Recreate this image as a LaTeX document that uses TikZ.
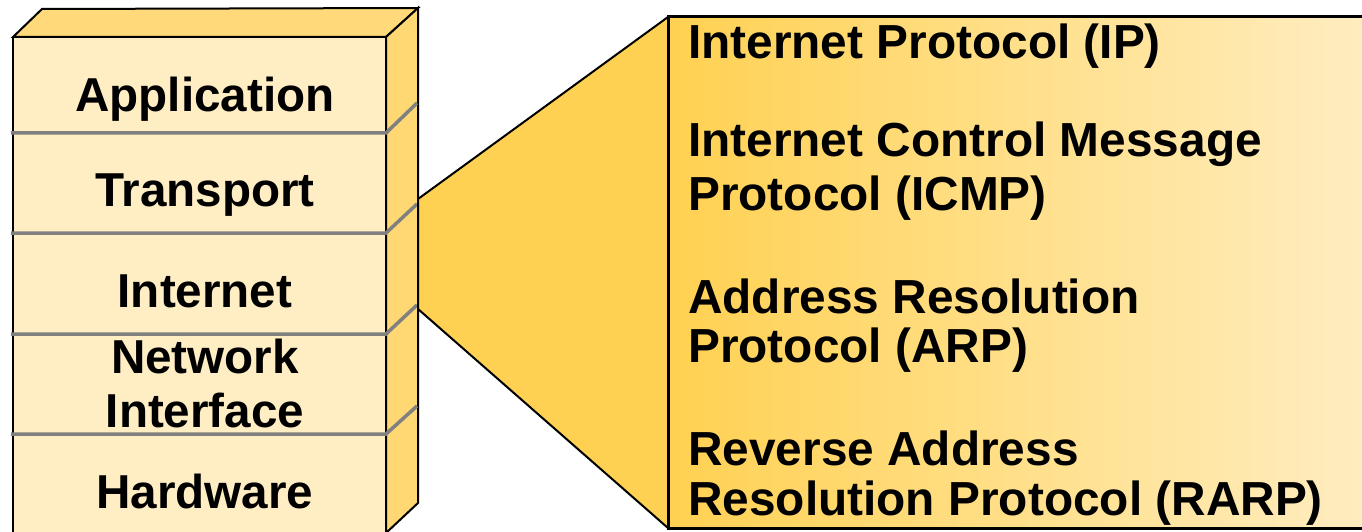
\documentclass[tikz,border=0pt]{standalone}
\usepackage{fontspec}
\setmainfont{Liberation Sans}
\definecolor{frontc}{HTML}{FFEEC4}
\definecolor{topc}{HTML}{FFD97A}
\definecolor{sidec}{HTML}{FFD873}
\definecolor{funnelc}{HTML}{FFD152}
\definecolor{panelr}{HTML}{FFEDC0}
\definecolor{sepc}{HTML}{808080}
\begin{document}
\begin{tikzpicture}[x=1pt,y=-1pt,
  outline/.style={draw=black,line width=2pt,line join=miter},
  sepline/.style={draw=sepc,line width=3.5pt},
  layer/.style={font=\fontsize{47.6}{53}\selectfont\bfseries,inner sep=0pt,anchor=base},
  proto/.style={font=\fontsize{47.8}{53}\selectfont\bfseries,inner sep=0pt,anchor=base west}]
\useasboundingbox (0,0) rectangle (1362,532);
% stack box
\fill[frontc] (13,37) rectangle (386,534);
\filldraw[fill=topc,outline] (13,37) -- (42,9) -- (418,8) -- (386,37) -- cycle;
\filldraw[fill=sidec,outline] (386,37) -- (418,8) -- (418,503) -- (386,533) -- cycle;
\draw[outline] (13,37) -- (13,534);
% separators
\foreach \a/\b in {133/103,233/204,334/305,434/406}
  \draw[sepline] (11,\a) -- (386,\a) -- (417,\b);
% funnel and panel
\filldraw[fill=funnelc,outline] (418,199) -- (668,17) -- (668,528) -- (418,309) -- cycle;
\shade[left color=funnelc,right color=panelr] (668,17) rectangle (1362,528);
\draw[black,line width=3pt] (1364,17) -- (668,17) -- (668,528) -- (1364,528);
% layer labels
\node[layer] (app) at (205,112) {Application};
\node[layer] (trn) at (205,206) {Transport};
\node[layer] (inet) at (205,307) {Internet};
\node[layer] (net1) at (205,373) {Network};
\node[layer] (net2) at (205,427) {Interface};
\node[layer] (hw) at (205,508) {Hardware};
% protocol labels
\node[proto] (ip) at (688,59) {Internet Protocol (IP)};
\node[proto] (icmpa) at (688,157) {Internet Control Message};
\node[proto] (icmpb) at (688,210) {Protocol (ICMP)};
\node[proto] (arpa) at (688,313) {Address Resolution};
\node[proto] (arpb) at (688,362) {Protocol (ARP)};
\node[proto] (rarpa) at (688,465) {Reverse Address};
\node[proto] (rarpb) at (688,515) {Resolution Protocol (RARP)};
\end{tikzpicture}
\end{document}
